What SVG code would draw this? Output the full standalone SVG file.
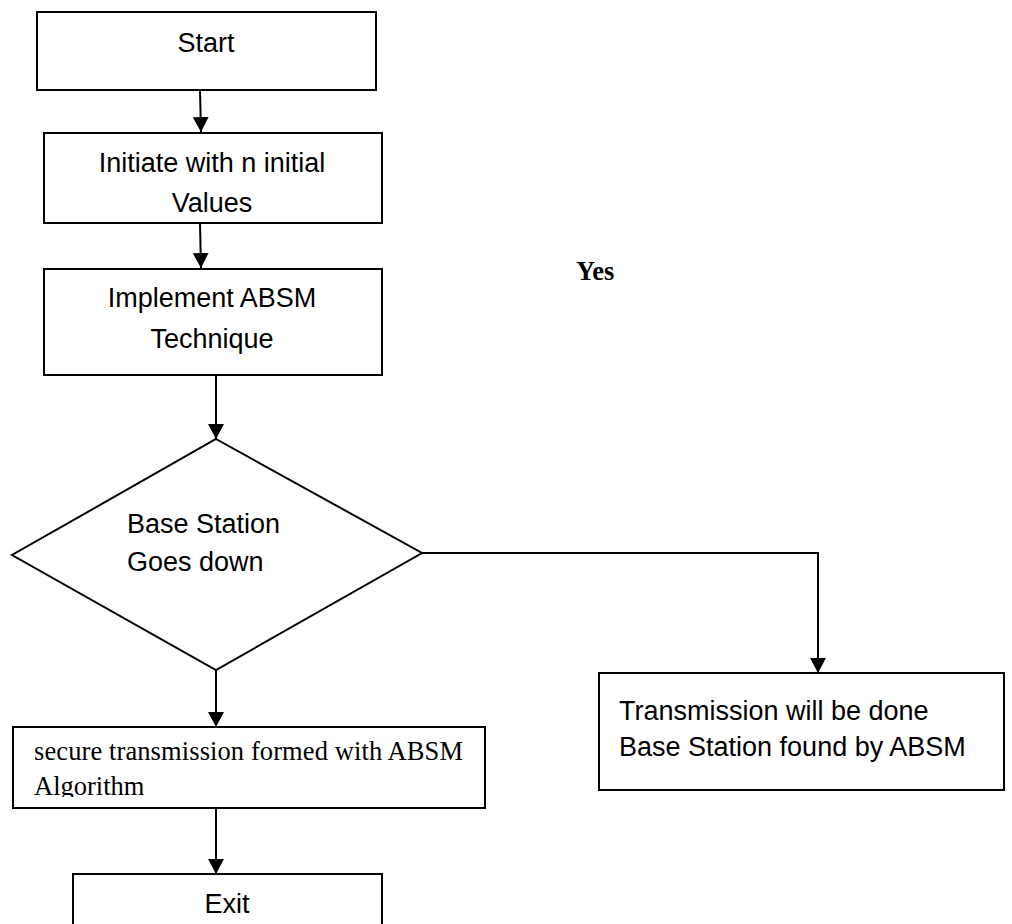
<svg xmlns="http://www.w3.org/2000/svg" width="1012" height="924" viewBox="0 0 1012 924">
<style>
.box{fill:#fff;stroke:#000;stroke-width:2}
.t{font-family:"Liberation Sans",Arial,sans-serif;font-size:27px;fill:#000}
.s{font-family:"Liberation Serif","Times New Roman",serif;font-size:26.5px;fill:#000}
.c{stroke:#000;stroke-width:2;fill:none}
</style>
<defs>
<marker id="ah" markerWidth="16" markerHeight="16" refX="15" refY="8" orient="auto" markerUnits="userSpaceOnUse">
<path d="M0,0 L15,8 L0,16 Z" fill="#000"/>
</marker>
<clipPath id="clipSec"><rect x="14" y="728" width="470" height="69"/></clipPath>
</defs>
<rect width="1012" height="924" fill="#fff"/>
<g id="connectors">
<line class="c" x1="200" y1="90" x2="201" y2="132" marker-end="url(#ah)"/>
<line class="c" x1="200" y1="223" x2="201" y2="268" marker-end="url(#ah)"/>
<line class="c" x1="216" y1="375" x2="216" y2="439" marker-end="url(#ah)"/>
<polyline class="c" points="422,553 818,553 818,673" marker-end="url(#ah)"/>
<line class="c" x1="216" y1="670" x2="216" y2="727" marker-end="url(#ah)"/>
<line class="c" x1="216" y1="808" x2="216" y2="874" marker-end="url(#ah)"/>
</g>
<g id="start">
<rect class="box" x="37" y="12" width="339" height="78"/>
<text class="t" x="206" y="52" text-anchor="middle">Start</text>
</g>
<g id="initiate">
<rect class="box" x="44" y="133" width="338" height="90"/>
<text class="t" x="212" y="172" text-anchor="middle">Initiate with n initial</text>
<text class="t" x="212" y="212" text-anchor="middle">Values</text>
</g>
<g id="implement">
<rect class="box" x="44" y="269" width="338" height="106"/>
<text class="t" x="212" y="307" text-anchor="middle">Implement ABSM</text>
<text class="t" x="212" y="348" text-anchor="middle">Technique</text>
</g>
<g id="decision">
<polygon class="box" points="216,439 422,553 216,670 12,555"/>
<text class="t" x="127" y="533">Base Station</text>
<text class="t" x="127" y="571">Goes down</text>
</g>
<g id="yes-label">
<text class="s" x="576" y="280" font-weight="bold" font-size="27">Yes</text>
</g>
<g id="transmission">
<rect class="box" x="599" y="673" width="405" height="117"/>
<text class="t" x="619" y="720">Transmission will be done</text>
<text class="t" x="619" y="756">Base Station found by ABSM</text>
</g>
<g id="secure">
<rect class="box" x="13" y="727" width="472" height="81"/>
<g clip-path="url(#clipSec)">
<text class="s" x="34" y="760" textLength="429" lengthAdjust="spacing">secure transmission formed with ABSM</text>
<text class="s" x="34" y="795">Algorithm</text>
</g>
</g>
<g id="exit">
<rect class="box" x="73" y="874" width="309" height="60"/>
<text class="t" x="227" y="913" text-anchor="middle">Exit</text>
</g>
</svg>
